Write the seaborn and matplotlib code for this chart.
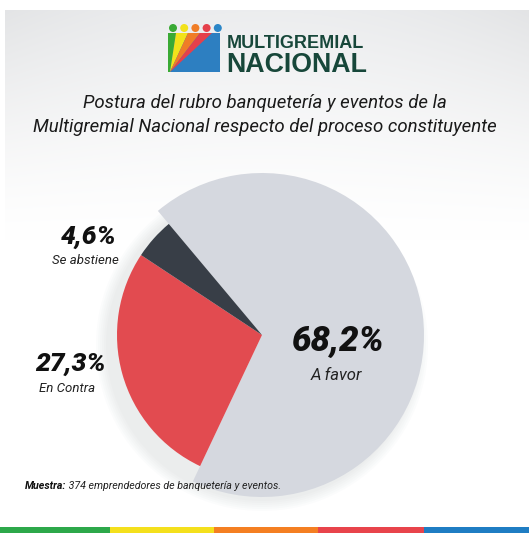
import numpy as np
import matplotlib
matplotlib.use("Agg")
import matplotlib.pyplot as plt
import seaborn as sns
from matplotlib.patches import Circle, Polygon, Rectangle

# datos
categorias = ["A favor", "En Contra", "Se abstiene"]
porcentajes = [68.2, 27.3, 4.6]
etiquetas = ["68,2%", "27,3%", "4,6%"]
colores = ["#D5D8DF", "#E24B50", "#383E47"]

titulo = ["Postura del rubro banquetería y eventos de la",
          "Multigremial Nacional respecto del proceso constituyente"]
muestra = "374 emprendedores de banquetería y eventos."
franja = ["#2DA84A", "#F4E01C", "#F47F22", "#E8444B", "#1F7DC3"]
puntos_logo = ["#3AAA35", "#F2E21B", "#F07D26", "#E5404B", "#2B86C8"]

sns.set_theme(style="white")
plt.rcParams['font.family'] = ['Roboto', 'DejaVu Sans']

W, H = 529, 533
fig = plt.figure(figsize=(W / 100, H / 100), dpi=100)
ax = fig.add_axes([0, 0, 1, 1])

def Y(y):
    return H - y

# fondo con degradado gris arriba
ypx = np.arange(H)[:, None]
xpx = np.arange(W)[None, :]
t = np.clip(1 - (ypx - 10) / 230.0, 0, 1) ** 1.3
v = 1 - t * (0.075 + 0.035 * ((xpx - 264) / 264.0) ** 2)
bg = np.stack([v, v * 1.0 + 0.004 * t, v + 0.01 * t], axis=-1)
bg = np.clip(bg, 0, 1)
bg[:10, :, :] = 1
bg[:, :5, :] = 1
ax.imshow(bg, extent=(0, W, 0, H), origin="upper", zorder=0, aspect="auto")

# sombra suave bajo el gráfico
cx, cy = 262, Y(335)
for k in range(6):
    ax.add_patch(Circle((cx, cy - 10), 156 + k * 2, color="#9aa0aa",
                        alpha=0.03, lw=0, zorder=1))

wedges, _ = ax.pie(porcentajes, colors=colores, startangle=130,
                   counterclock=False, center=(cx, cy), radius=162,
                   wedgeprops=dict(linewidth=0))
for w in wedges:
    w.set_zorder(2)
wedges[1].set_radius(145)
wedges[2].set_radius(145)

# etiquetas
ax.text(338, Y(342), etiquetas[0], ha="center", va="center", fontsize=25,
        fontweight="black", fontstyle="italic", color="#111111", zorder=5)
ax.text(336, Y(376), categorias[0], ha="center", va="center", fontsize=12,
        fontstyle="italic", color="#222222", zorder=5)
ax.text(70, Y(364), etiquetas[1], ha="center", va="center", fontsize=19,
        fontweight="black", fontstyle="italic", color="#111111", zorder=5)
ax.text(67, Y(389), categorias[1], ha="center", va="center", fontsize=9.5,
        fontstyle="italic", color="#222222", zorder=5)
ax.text(88, Y(237), etiquetas[2], ha="center", va="center", fontsize=19,
        fontweight="black", fontstyle="italic", color="#111111", zorder=5)
ax.text(85, Y(261), categorias[2], ha="center", va="center", fontsize=9.5,
        fontstyle="italic", color="#222222", zorder=5)

# titulo
ax.text(265, Y(103), titulo[0], ha="center", va="center", fontsize=13.4,
        fontstyle="italic", color="#1a1a1a", zorder=5)
ax.text(265, Y(127), titulo[1], ha="center", va="center", fontsize=13.4,
        fontstyle="italic", color="#1a1a1a", zorder=5)

# logo
ax.add_patch(Rectangle((168, Y(72)), 52, 39, color="#2D7FC1", lw=0, zorder=3))
px0 = (170, Y(72))
rayos = [(168, 176), (176, 188), (188, 200), (200, 212)]
for (a, b), c in zip(rayos, puntos_logo[:4]):
    if a == 168:
        pts = [(168, Y(33)), (b, Y(33)), px0, (168, Y(72))]
    else:
        pts = [(a, Y(33)), (b, Y(33)), px0]
    ax.add_patch(Polygon(pts, closed=True, color=c, lw=0, zorder=4))
for i, c in enumerate(puntos_logo):
    ax.add_patch(Circle((173 + i * 11.2, Y(28)), 4, color=c, lw=0, zorder=4))
ax.text(227, Y(48.5), "MULTIGREMIAL", ha="left", va="baseline", fontsize=13,
        fontweight="bold", family="Liberation Sans", color="#17473A", zorder=5)
ax.text(226, Y(72.5), "NACIONAL", ha="left", va="baseline", fontsize=19.3,
        fontweight="bold", family="Liberation Sans", color="#17473A", zorder=5)

# nota
t1 = ax.text(25, Y(486), "Muestra:", ha="left", va="center", fontsize=7.7,
             fontweight="bold", fontstyle="italic", color="#111111", zorder=5)
ax.annotate(" " + muestra, xy=(1, 0.5), xycoords=t1, ha="left", va="center",
            fontsize=7.7, fontstyle="italic", color="#222222", zorder=5)

# franja de colores
cortes = [0, 110, 214, 318, 424, W]
for i, c in enumerate(franja):
    ax.add_patch(Rectangle((cortes[i], 0), cortes[i + 1] - cortes[i], 6,
                           color=c, lw=0, zorder=5))

ax.set_xlim(0, W)
ax.set_ylim(0, H)
ax.set_aspect("auto")
ax.axis("off")

fig.savefig("out.png", dpi=100)
